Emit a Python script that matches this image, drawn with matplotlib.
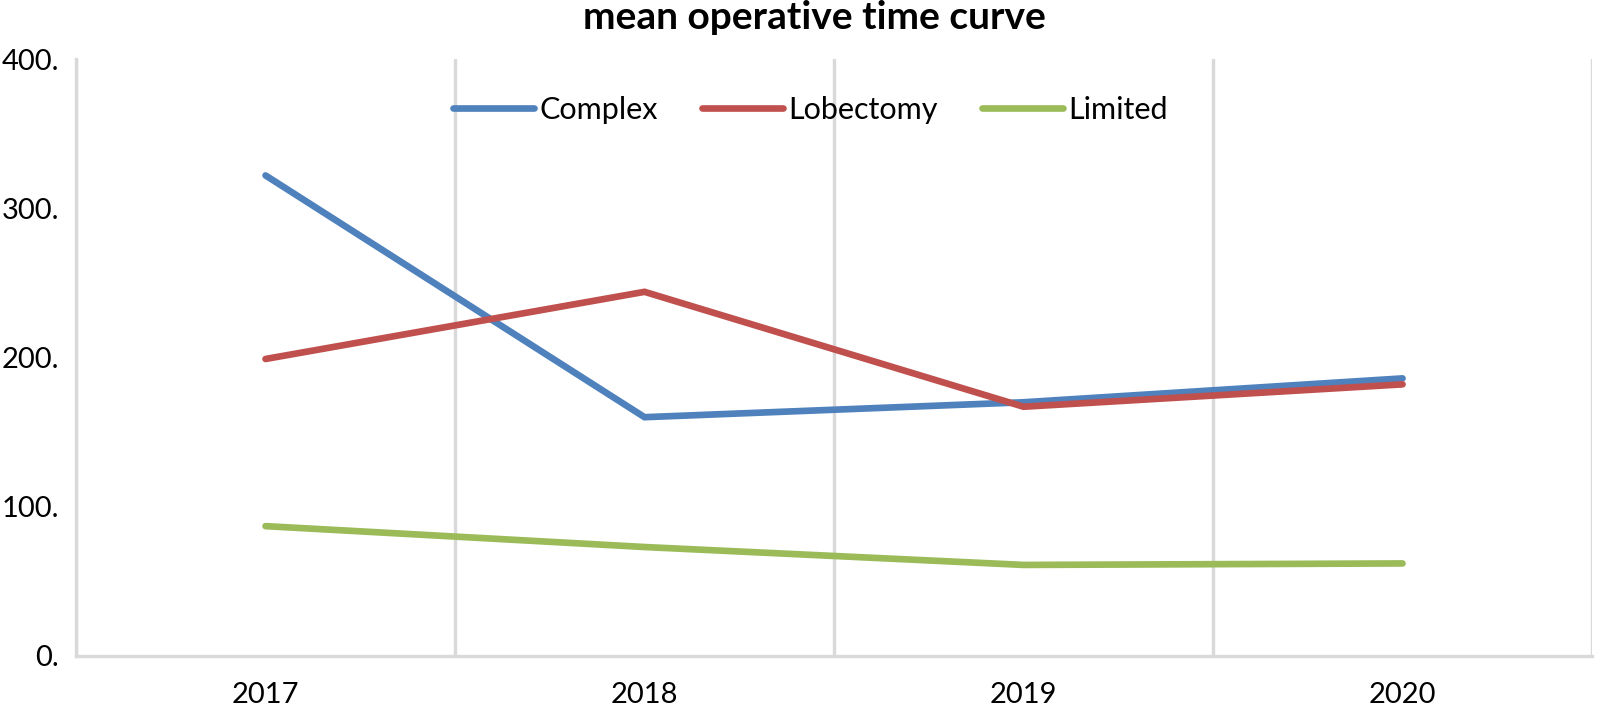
import matplotlib
matplotlib.use("Agg")
import matplotlib.pyplot as plt
import numpy as np

plt.rcParams['font.family'] = ['Lato', 'DejaVu Sans']

years = ["2017", "2018", "2019", "2020"]
complex_vals = [322, 160, 170, 186]
lobectomy_vals = [199, 244, 167, 182]
limited_vals = [87, 73, 61, 62]
yticks = [0, 100, 200, 300, 400]
ytick_labels = ["0.", "100.", "200.", "300.", "400."]

fig = plt.figure(figsize=(15.97, 7.12), dpi=100)
ax = fig.add_axes([0.0476, 0.0787, 0.9493, 0.8384])

x = np.arange(len(years))
grid_c = "#d9d9d9"
for b in np.arange(-0.5, len(years) + 0.5, 1.0):
    ax.axvline(b, color=grid_c, lw=2.4, zorder=1)

ax.plot(x, complex_vals, color="#4f81bd", lw=4.8, solid_capstyle="round", solid_joinstyle="miter", label="Complex", zorder=3)
ax.plot(x, lobectomy_vals, color="#c0504d", lw=4.8, solid_capstyle="round", solid_joinstyle="miter", label="Lobectomy", zorder=3)
ax.plot(x, limited_vals, color="#9bbb59", lw=4.8, solid_capstyle="round", solid_joinstyle="miter", label="Limited", zorder=3)

ax.set_xlim(-0.5, len(years) - 0.5)
ax.set_ylim(0, 400)
ax.set_xticks(x)
ax.set_xticklabels(years, fontsize=21)
ax.set_yticks(yticks)
ax.set_yticklabels(ytick_labels, fontsize=21)
ax.tick_params(length=0)
ax.tick_params(axis='x', pad=19)
ax.tick_params(axis='y', pad=12)

for s in ["top", "right"]:
    ax.spines[s].set_visible(False)
for s in ["left", "bottom"]:
    ax.spines[s].set_color(grid_c)
    ax.spines[s].set_linewidth(2.4)

leg = ax.legend(loc="center", bbox_to_anchor=(0.4845, 0.915), ncol=3, frameon=False,
                fontsize=22, handlelength=2.65, handletextpad=0.17, columnspacing=1.45)

fig.text(0.510, 0.975, "mean operative time curve", ha="center", va="center",
         fontsize=28, fontweight="bold")

fig.savefig("out.png", dpi=100)
